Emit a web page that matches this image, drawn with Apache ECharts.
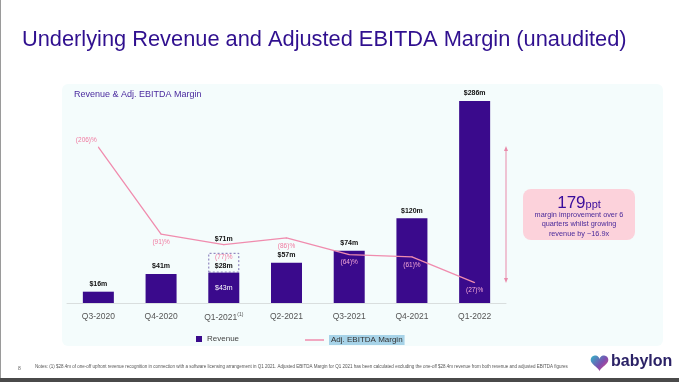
<!DOCTYPE html>
<html><head><meta charset="utf-8">
<script src="https://cdn.jsdelivr.net/npm/echarts@6/dist/echarts.min.js"></script>
<style>html,body{margin:0;padding:0;background:#fff}#c{width:679px;height:382px}</style>
</head><body><div id="c"></div>
<script>
const categories = ['Q3-2020','Q4-2020','Q1-2021','Q2-2021','Q3-2021','Q4-2021','Q1-2022'];
const revenue = [16, 41, 43, 57, 74, 120, 286];
const oneOff = [null, null, 28, null, null, null, null];
const margin = [-206, -91, -77, -86, -64, -61, -27];
const revLabels = ['$16m','$41m','$43m','$57m','$74m','$120m','$286m'];
const marginLabels = ['(206)%','(91)%','(77)%','(86)%','(64)%','(61)%','(27)%'];

const FONT = 'Liberation Sans, Arial, sans-serif';
const purple = '#3a0a8c';
const pink = '#f08cae';

const chart = echarts.init(document.getElementById('c'), null, {renderer:'canvas'});

const revData = revenue.map((v,i)=>({
  value:v,
  label: i===2 ? {show:true, position:'inside', color:'#fff', fontWeight:'normal', formatter: revLabels[i]} :
                 {show:true, position:'top', formatter: revLabels[i]}
}));
const oneOffData = oneOff.map((v,i)=> v==null ? null : ({
  value:v,
  label:{show:true, position:'insideBottom', distance:3, formatter:'$'+v+'m'}
}));
const totalData = oneOff.map((v,i)=> v==null ? null : ({
  value:0,
  label:{show:true, position:'top', distance:10, formatter:'$'+(revenue[i]+v)+'m'}
}));
const marginData = margin.map((v,i)=>{
  const onBar = i>=4;
  const lab = {show:true, formatter: marginLabels[i], color: onBar ? '#f3a6d6' : '#f07aa0'};
  if (i===0) { lab.position=[-22,-10]; }
  else { lab.position='bottom'; lab.distance = (i===2 ? 9 : 4); }
  return {value:v, label:lab};
});

// logo heart outline
const heartPts = [];
for (let k=0;k<60;k++){
  const t = k/60*2*Math.PI;
  const hx = 16*Math.pow(Math.sin(t),3);
  const hy = 13*Math.cos(t)-5*Math.cos(2*t)-2*Math.cos(3*t)-Math.cos(4*t);
  heartPts.push([599.5 + hx*0.55, 362 - hy*0.55]);
}

chart.setOption({
  animation:false,
  textStyle:{fontFamily:FONT},
  grid:{left:67, width:439, top:91, bottom:79, containLabel:false},
  xAxis:{type:'category', data:categories,
    axisLine:{lineStyle:{color:'#d9dede', width:1}}, axisTick:{show:false},
    axisLabel:{color:'#555', fontSize:8.5, margin:9, fontFamily:FONT, interval:0,
      formatter:(v)=> v==='Q1-2021' ? v+'{s|(1)}' : v,
      rich:{s:{fontSize:5, verticalAlign:'top', padding:[0,0,6,0], color:'#555'}}}},
  yAxis:[
    {type:'value', min:0, max:300, show:false, splitLine:{show:false}},
    {type:'value', min:-280, max:0, inverse:true, show:false, splitLine:{show:false}}
  ],
  legend:[
    {left:191, top:330, itemWidth:6, itemHeight:6, itemGap:4, data:[{name:'Revenue', icon:'rect'}],
     textStyle:{color:'#444', fontSize:8, fontFamily:FONT}},
    {left:300, top:330, itemWidth:19, itemHeight:1.5, data:[{name:'Adj. EBITDA Margin', icon:'rect'}],
     textStyle:{color:'#333', fontSize:8, fontFamily:FONT, backgroundColor:'#a7d3e8', padding:[1,2,1,2]}}
  ],
  graphic:[
    {type:'rect', z:-10, shape:{x:62, y:84, width:601, height:262, r:6}, style:{fill:'#f4fcfc'}},
    {type:'line', shape:{x1:0.5,y1:0,x2:0.5,y2:378}, style:{stroke:'#9a9a9a', lineWidth:1}},
    {type:'rect', shape:{x:0,y:378,width:679,height:4}, style:{fill:'#4a4a4a'}},
    {type:'text', x:22, y:40, style:{text:'Underlying Revenue and Adjusted EBITDA Margin (unaudited)', fill:'#30108f', font:'21.8px '+FONT, verticalAlign:'middle'}},
    {type:'text', x:74, y:95, style:{text:'Revenue & Adj. EBITDA Margin', fill:'#4a2a9e', font:'9px '+FONT, verticalAlign:'middle'}},
    // arrow
    {type:'line', shape:{x1:506,y1:149,x2:506,y2:280}, style:{stroke:'#e98aaa', lineWidth:1}},
    {type:'polygon', shape:{points:[[506,146],[504,151],[508,151]]}, style:{fill:'#e98aaa'}},
    {type:'polygon', shape:{points:[[506,283],[504,278],[508,278]]}, style:{fill:'#e98aaa'}},
    // pink box
    {type:'rect', shape:{x:523, y:189, width:112, height:51, r:8}, style:{fill:'#fcd2db'}},
    {type:'text', x:579, y:203, style:{text:'{a|179}{b|ppt}', align:'center', verticalAlign:'middle',
      rich:{a:{fontSize:17, fill:'#3a0c9c', fontFamily:FONT}, b:{fontSize:11, fill:'#3a0c9c', fontFamily:FONT, padding:[3,0,0,0]}}}},
    {type:'text', x:579, y:224, style:{text:'margin improvement over 6\nquarters whilst growing\nrevenue by ~16.9x', align:'center', verticalAlign:'middle', fill:'#4a2a9a', font:'7.3px '+FONT, lineHeight:9.5}},
    // footnote
    {type:'text', x:18, y:369, style:{text:'8', fill:'#666', font:'5px '+FONT, verticalAlign:'middle'}},
    {type:'text', x:35, y:367, style:{text:'Notes: (1) $28.4m of one-off upfront revenue recognition in connection with a software licensing arrangement in Q1 2021. Adjusted EBITDA Margin for Q1 2021 has been calculated excluding the one-off $28.4m revenue from both revenue and adjusted EBITDA figures', fill:'#555', font:'4.5px '+FONT, verticalAlign:'middle'}},
    // logo
    {type:'polygon', shape:{points:heartPts},
      style:{fill:new echarts.graphic.LinearGradient(0,0,1,1,[{offset:0,color:'#2fb6c8'},{offset:0.55,color:'#7b4fb0'},{offset:1,color:'#e8417e'}])}},
    {type:'text', x:611, y:362, style:{text:'babylon', fill:'#2b2266', font:'bold 16px '+FONT, verticalAlign:'middle'}}
  ],
  series:[
    {name:'Revenue', type:'bar', stack:'r', data:revData, barWidth:31, yAxisIndex:0,
      itemStyle:{color:purple},
      label:{color:'#111', fontSize:7, fontWeight:'bold', fontFamily:FONT, distance:4}},
    {name:'oneoff', type:'bar', stack:'r', data:oneOffData, barWidth:31, yAxisIndex:0,
      itemStyle:{color:'rgba(255,255,255,0)', borderColor:'#7d6fb3', borderWidth:1, borderType:[2,2]},
      label:{color:'#111', fontSize:7, fontWeight:'bold', fontFamily:FONT}},
    {name:'total', type:'bar', stack:'r', data:totalData, barWidth:31, yAxisIndex:0,
      itemStyle:{color:'rgba(0,0,0,0)'},
      label:{color:'#111', fontSize:7, fontWeight:'bold', fontFamily:FONT}},
    {name:'Adj. EBITDA Margin', type:'line', yAxisIndex:1, data:marginData, symbol:'circle', symbolSize:1, showSymbol:true,
      lineStyle:{color:pink, width:1.3}, itemStyle:{color:pink}, z:5,
      label:{show:true, fontSize:6.5, fontFamily:FONT}, labelLayout:{hideOverlap:false}}
  ]
});
</script></body></html>
